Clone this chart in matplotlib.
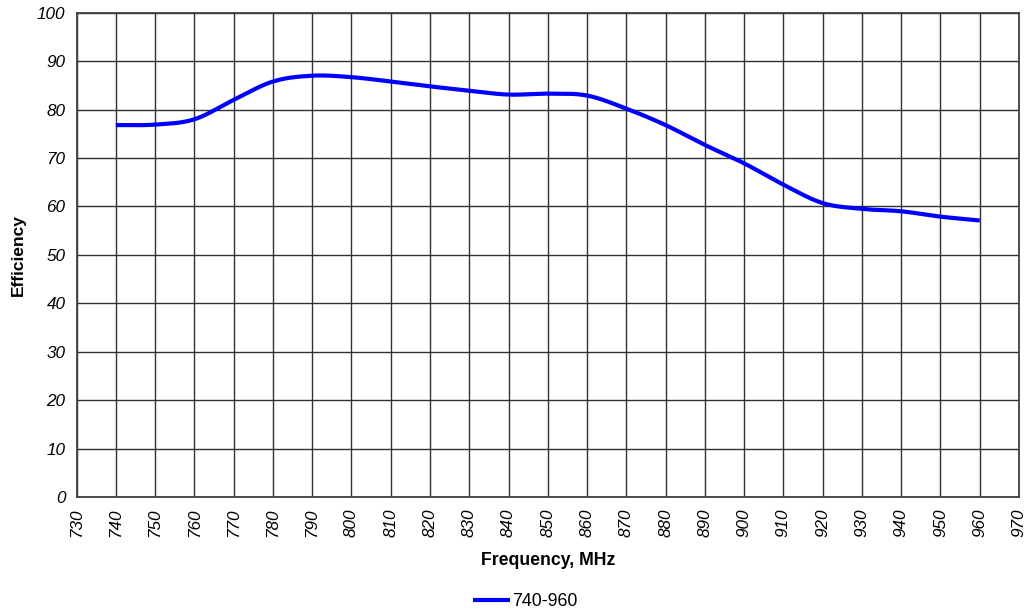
"""
Efficiency vs frequency, 740-960 MHz band.
"""
import matplotlib
matplotlib.use("Agg")
import matplotlib.pyplot as plt
import numpy as np

plt.rcParams['font.family'] = ['Liberation Sans', 'DejaVu Sans']

freq = [740, 750, 760, 770, 780, 790, 800, 810, 820, 830, 840, 850,
        860, 870, 880, 890, 900, 910, 920, 930, 940, 950, 960]
eff = [76.8, 76.9, 78.0, 82.0, 85.8, 87.0, 86.7, 85.8, 84.8, 83.9, 83.1, 83.3,
       82.9, 80.2, 76.8, 72.7, 68.9, 64.5, 60.7, 59.5, 59.0, 57.9, 57.1]
series_name = "740-960"


def suavizar(x, y, n=30):
    """Catmull-Rom para imitar la línea suavizada de Excel."""
    x = np.asarray(x, float)
    y = np.asarray(y, float)
    px = np.concatenate([[2 * x[0] - x[1]], x, [2 * x[-1] - x[-2]]])
    py = np.concatenate([[2 * y[0] - y[1]], y, [2 * y[-1] - y[-2]]])
    xs, ys = [], []
    t = np.linspace(0, 1, n, endpoint=False)
    for i in range(1, len(px) - 2):
        for p, out in ((px, xs), (py, ys)):
            p0, p1, p2, p3 = p[i - 1], p[i], p[i + 1], p[i + 2]
            out.extend(0.5 * (2 * p1 + (-p0 + p2) * t
                              + (2 * p0 - 5 * p1 + 4 * p2 - p3) * t ** 2
                              + (-p0 + 3 * p1 - 3 * p2 + p3) * t ** 3))
    xs.append(x[-1])
    ys.append(y[-1])
    return np.array(xs), np.array(ys)


fig = plt.figure(figsize=(10.26, 6.13), dpi=100)
ax = fig.add_axes([0.0746, 0.1892, 0.9186, 0.790])

sx, sy = suavizar(freq, eff)
ax.plot(sx, sy, color="#0000FF", lw=3.0, label=series_name,
        solid_capstyle="butt", zorder=3)

ax.set_xlim(730, 970)
ax.set_ylim(0, 100)
ax.set_xticks(np.arange(730, 971, 10))
ax.set_yticks(np.arange(0, 101, 10))
ax.grid(True, color="#303030", lw=1.0)
ax.set_axisbelow(True)
ax.tick_params(length=0, labelsize=12.3, pad=8)
for lab in ax.get_xticklabels():
    lab.set_rotation(90)
    lab.set_fontstyle("italic")
for lab in ax.get_yticklabels():
    lab.set_fontstyle("italic")
for s in ax.spines.values():
    s.set_color("#404040")
    s.set_linewidth(1.3)

ax.set_xlabel("Frequency, MHz", fontsize=12.7, fontweight="bold", labelpad=11)
ax.set_ylabel("Efficiency", fontsize=12.5, fontweight="bold", labelpad=8)

fig.legend(loc="center", bbox_to_anchor=(0.512, 1 - 602 / 613), frameon=False,
           fontsize=12.8, handlelength=2.1, handletextpad=0.1)

fig.savefig("out.png", dpi=100)
